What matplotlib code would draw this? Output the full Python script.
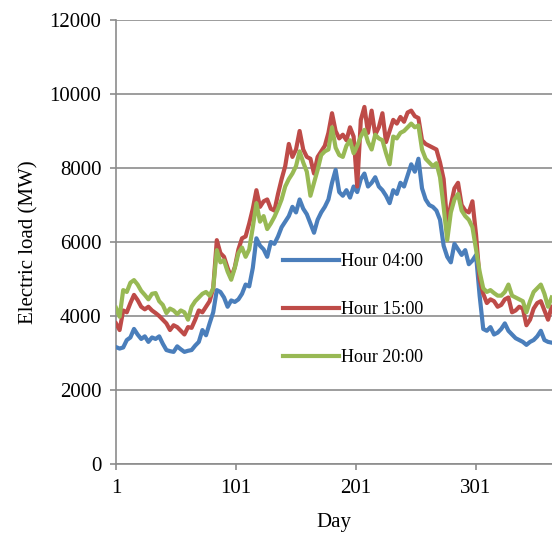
#! /usr/bin/env python3

import matplotlib
import matplotlib.pyplot as plt
import numpy as np

matplotlib.use("Agg")

# one sample every third day of the year
days = np.arange(1, 365, 3)

hour_04 = [
    3160, 3120, 3150, 3350, 3420, 3650, 3500, 3380, 3450, 3300,
    3420, 3380, 3450, 3250, 3080, 3050, 3030, 3180, 3100, 3030,
    3060, 3080, 3200, 3300, 3620, 3480, 3800, 4100, 4700, 4650,
    4500, 4250, 4420, 4380, 4450, 4600, 4850, 4800, 5300, 6100,
    5900, 5800, 5600, 6000, 5950, 6150, 6400, 6550, 6700, 6950,
    6800, 7150, 6900, 6750, 6500, 6250, 6600, 6800, 6950, 7150,
    7600, 7950, 7350, 7250, 7400, 7200, 7500, 7350, 7700, 7850,
    7500, 7600, 7750, 7500, 7400, 7250, 7050, 7400, 7300, 7600,
    7500, 7800, 8100, 7900, 8250, 7450, 7150, 7000, 6950, 6850,
    6600, 5900, 5600, 5450, 5950, 5800, 5650, 5780, 5400, 5500,
    5650, 4550, 3650, 3600, 3700, 3500, 3550, 3650, 3800, 3600,
    3500, 3400, 3350, 3300, 3220, 3300, 3350, 3450, 3600, 3350,
    3300, 3280,
]

hour_15 = [
    3800, 3620, 4150, 4100, 4350, 4570, 4430, 4250, 4180, 4250,
    4150, 4080, 4000, 3900, 3800, 3620, 3750, 3700, 3600, 3500,
    3700, 3680, 3900, 4150, 4100, 4250, 4400, 4750, 6050, 5700,
    5600, 5300, 5050, 5320, 5800, 6100, 6150, 6500, 6900, 7400,
    6950, 7100, 7150, 6900, 6850, 7300, 7700, 8050, 8650, 8300,
    8500, 9000, 8500, 8300, 8250, 7850, 8300, 8450, 8600, 8950,
    9480, 9000, 8800, 8900, 8750, 9100, 8850, 7500, 9300, 9650,
    8950, 9550, 8900, 9100, 9480, 8700, 9000, 9300, 9200, 9380,
    9250, 9500, 9550, 9400, 9350, 8750, 8650, 8600, 8550, 8500,
    8150, 7700, 6500, 7000, 7450, 7600, 7000, 6850, 6800, 7100,
    6200, 5000, 4600, 4350, 4450, 4400, 4250, 4300, 4450, 4500,
    4100, 4150, 4250, 4200, 3750, 3900, 4200, 4350, 4400, 4150,
    3900, 4250,
]

hour_20 = [
    4220, 3980, 4700, 4650, 4900, 4970, 4850, 4680, 4570, 4450,
    4600, 4620, 4400, 4300, 4080, 4200, 4150, 4050, 4150, 4100,
    3900, 4250, 4400, 4500, 4600, 4650, 4550, 4750, 5780, 5450,
    5500, 5200, 4980, 5300, 5700, 5850, 5600, 5800, 6400, 7050,
    6550, 6700, 6350, 6500, 6680, 6900, 7150, 7500, 7700, 7850,
    8050, 8450, 8150, 7900, 7250, 7600, 7950, 8350, 8450, 8500,
    9100, 8550, 8350, 8300, 8600, 8750, 8400, 8600, 8850, 9030,
    8700, 8500, 8900, 8800, 8750, 8400, 8100, 8850, 8800, 8950,
    9000, 9100, 9200, 9100, 9150, 8500, 8250, 8150, 8050, 8130,
    7750, 6950, 6050, 6800, 7150, 7300, 6850, 6700, 6600, 6400,
    5800, 5200, 4750, 4650, 4700, 4620, 4550, 4550, 4650, 4850,
    4550, 4500, 4450, 4400, 4100, 4400, 4650, 4750, 4850, 4600,
    4250, 4500,
]

labels = ["Hour 04:00", "Hour 15:00", "Hour 20:00"]
colors = ["#4A7EBB", "#BE4B48", "#98B954"]
x_ticks = [1, 101, 201, 301]
y_ticks = np.arange(0, 12001, 2000)

plt.rcParams["font.family"] = ["Liberation Serif", "DejaVu Serif"]

fig = plt.figure(figsize=(5.52, 5.34), dpi=100)
ax = fig.add_axes([116 / 552, 70 / 534, 436 / 552, 444 / 534])

for series, label, color in zip([hour_04, hour_15, hour_20], labels, colors):
    ax.plot(days, series, color=color, lw=3.0, label=label,
            solid_joinstyle="round", zorder=3)

grid_color = "#8c8c8c"
ax.set_xlim(1, 364.3)
ax.set_ylim(0, 12000)
ax.set_xticks(x_ticks)
ax.set_yticks(y_ticks)
ax.grid(True, axis="y", color=grid_color, lw=1.2)
ax.set_axisbelow(True)

for side in ("top", "right"):
    ax.spines[side].set_visible(False)
for side in ("left", "bottom"):
    ax.spines[side].set_color(grid_color)
    ax.spines[side].set_linewidth(1.2)

ax.tick_params(axis="both", colors=grid_color, labelcolor="black",
               labelsize=15, length=4.5, width=1.2, pad=6)

ax.set_xlabel("Day", fontsize=15, labelpad=11)
ax.set_ylabel("Electric load (MW)", fontsize=15, labelpad=8)

ax.legend(loc="center", bbox_to_anchor=(0.544, 0.347), frameon=False,
          fontsize=13, handlelength=3.1, handletextpad=0.15,
          labelspacing=1.72)

fig.savefig("out.png", dpi=100)
